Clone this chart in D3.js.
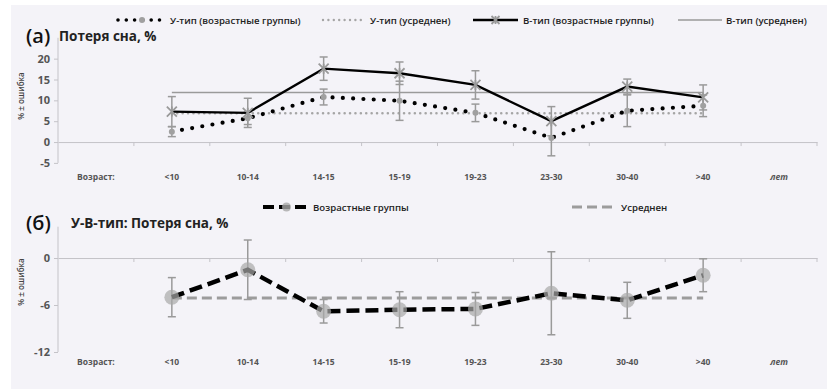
<!DOCTYPE html>
<html>
<head>
<meta charset="utf-8">
<script src="https://cdn.jsdelivr.net/npm/d3@7"></script>
<style>
  html, body { margin: 0; padding: 0; background: #ffffff; }
  svg { display: block; }
  text { font-family: "Open Sans", "Noto Sans", sans-serif; }
</style>
</head>
<body>
<svg id="chart" width="827" height="389"></svg>
<script>
// Age groups along the horizontal axis (first and last slots are axis captions)
const categories = ["Возраст:", "<10", "10-14", "14-15", "15-19", "19-23", "23-30", "30-40", ">40", "лет"];
const ageGroups = ["<10", "10-14", "14-15", "15-19", "19-23", "23-30", "30-40", ">40"];

// Panel (a): sleep loss, %
const uValues = [2.5, 5.7, 10.8, 9.9, 7.0, 1.0, 7.5, 8.7];
const uErrors = [1.2, 1.5, 1.9, 4.7, 2.1, 4.3, 3.8, 2.6];
const uMean = 6.9;
const bValues = [7.3, 7.0, 17.6, 16.5, 13.7, 5.0, 13.3, 10.7];
const bErrors = [3.6, 3.5, 2.8, 2.7, 3.4, 3.5, 1.8, 3.0];
const bMean = 11.9;
const yTicksA = [-5, 0, 5, 10, 15, 20];

// Panel (б): difference U minus B, %
const dValues = [-5.0, -1.5, -6.8, -6.6, -6.5, -4.5, -5.4, -2.2];
const dErrors = [2.5, 3.8, 1.5, 2.3, 2.1, 5.3, 2.3, 2.1];
const dMean = -5.1;
const yTicksB = [-12, -6, 0];

const svg = d3.select("#chart");

svg.append("rect")
  .attr("x", 11).attr("y", 5).attr("width", 816).attr("height", 384)
  .attr("fill", "#f4f3f8");

const x = d3.scaleBand().domain(categories).range([58, 817]);
const cx = c => x(c) + x.bandwidth() / 2;

const yA = d3.scaleLinear().domain([-5, 25]).range([162.9, 37.8]);
const yB = d3.scaleLinear().domain([-12, 4]).range([352, 226.7]);

const axisGray = "#c4c3c8";
const labelGray = "#555";
const markGray = "#9a9a9a";

function drawFrame(y, ticks, labelY, axisTitleY) {
  const g = svg.append("g");
  // vertical value axis
  g.append("line")
    .attr("x1", 58).attr("x2", 58)
    .attr("y1", y(y.domain()[1])).attr("y2", y(y.domain()[0]))
    .attr("stroke", axisGray).attr("stroke-width", 1);
  const ya = d3.axisLeft(y).tickValues(ticks).tickSize(4).tickPadding(4).tickFormat(d3.format("d"));
  const ag = g.append("g").attr("transform", "translate(58,0)").call(ya);
  ag.select(".domain").remove();
  ag.selectAll(".tick line").attr("stroke", axisGray);
  ag.selectAll(".tick text")
    .attr("fill", labelGray).attr("font-size", 11).attr("font-weight", 700)
    .text(d => d3.format("d")(d).replace("−", "-"));

  // horizontal axis crossing at zero
  const xa = d3.axisBottom(x).tickValues([]).tickSizeOuter(0);
  const xg = g.append("g").attr("transform", `translate(0,${y(0)})`).call(xa);
  xg.select(".domain").attr("stroke", axisGray);
  const edges = categories.map(c => x(c)).concat([x.range()[1]]).slice(1);
  xg.selectAll(".catTick").data(edges).enter().append("line")
    .attr("x1", d => d).attr("x2", d => d).attr("y1", 0).attr("y2", 4)
    .attr("stroke", axisGray);

  // category labels at the bottom
  g.selectAll(".cat").data(categories).enter().append("text")
    .attr("x", d => cx(d)).attr("y", labelY)
    .attr("text-anchor", "middle")
    .attr("font-size", 8.5).attr("font-weight", 700)
    .attr("font-style", d => d === "лет" ? "italic" : "normal")
    .attr("fill", labelGray)
    .text(d => d);

  // value axis title
  g.append("text")
    .attr("transform", `translate(24,${axisTitleY}) rotate(-90)`)
    .attr("text-anchor", "middle")
    .attr("font-size", 8).attr("font-weight", 600)
    .attr("fill", "#444")
    .text("% ± ошибка");
}

function errorBars(y, values, errors) {
  const g = svg.append("g");
  ageGroups.forEach((c, i) => {
    const xc = cx(c), top = y(values[i] + errors[i]), bot = y(values[i] - errors[i]);
    g.append("line").attr("x1", xc).attr("x2", xc).attr("y1", top).attr("y2", bot)
      .attr("stroke", markGray).attr("stroke-width", 1.5);
    [top, bot].forEach(v => g.append("line")
      .attr("x1", xc - 4).attr("x2", xc + 4).attr("y1", v).attr("y2", v)
      .attr("stroke", markGray).attr("stroke-width", 1.5));
  });
}

function starMarker(g, xc, yc, s) {
  const p = d3.path();
  p.moveTo(xc - s, yc - s); p.lineTo(xc + s, yc + s);
  p.moveTo(xc - s, yc + s); p.lineTo(xc + s, yc - s);
  p.moveTo(xc, yc - s); p.lineTo(xc, yc + s);
  g.append("path").attr("d", p.toString())
    .attr("stroke", markGray).attr("stroke-width", 1.8).attr("fill", "none");
}

// ---------- Panel (а) ----------
drawFrame(yA, yTicksA, 180, 96);

const line = (y) => d3.line().x((d, i) => cx(ageGroups[i])).y(d => y(d));

// mean lines
svg.append("line")
  .attr("x1", cx("<10")).attr("x2", cx(">40"))
  .attr("y1", yA(bMean)).attr("y2", yA(bMean))
  .attr("stroke", markGray).attr("stroke-width", 1.6);
svg.append("line")
  .attr("x1", cx("<10")).attr("x2", cx(">40"))
  .attr("y1", yA(uMean)).attr("y2", yA(uMean))
  .attr("stroke", "#a5a5a5").attr("stroke-width", 2.6)
  .attr("stroke-dasharray", "0 5.4").attr("stroke-linecap", "round");

errorBars(yA, uValues, uErrors);
errorBars(yA, bValues, bErrors);

// U-type by age: round dotted black line
svg.append("path").datum(uValues).attr("d", line(yA))
  .attr("fill", "none").attr("stroke", "#000").attr("stroke-width", 4.2)
  .attr("stroke-dasharray", "0 10.3").attr("stroke-linecap", "round");
svg.selectAll(".uMark").data(uValues).enter().append("circle")
  .attr("cx", (d, i) => cx(ageGroups[i])).attr("cy", d => yA(d)).attr("r", 3)
  .attr("fill", "#a0a0a0");

// B-type by age: solid black line with star markers
svg.append("path").datum(bValues).attr("d", line(yA))
  .attr("fill", "none").attr("stroke", "#000").attr("stroke-width", 2.4);
const bm = svg.append("g");
bValues.forEach((v, i) => starMarker(bm, cx(ageGroups[i]), yA(v), 5));

// titles
svg.append("text").attr("x", 26).attr("y", 43)
  .attr("font-size", 20).attr("font-weight", 600).attr("fill", "#111").text("(а)");
svg.append("text").attr("x", 59).attr("y", 41)
  .attr("font-size", 13.5).attr("font-weight", 700).attr("fill", "#222").text("Потеря сна, %");

// legend for panel (а)
const legA = svg.append("g");
const legY = 20;
function legText(g, xPos, y, t) {
  g.append("text").attr("x", xPos).attr("y", y + 3.5)
    .attr("font-size", 9.6).attr("font-weight", 600).attr("fill", "#222").text(t);
}
legA.append("line").attr("x1", 118).attr("x2", 166).attr("y1", legY).attr("y2", legY)
  .attr("stroke", "#000").attr("stroke-width", 3.6)
  .attr("stroke-dasharray", "0 8.3").attr("stroke-linecap", "round");
legA.append("circle").attr("cx", 142).attr("cy", legY).attr("r", 3).attr("fill", "#a0a0a0");
legText(legA, 170, legY, "У-тип (возрастные группы)");

legA.append("line").attr("x1", 323).attr("x2", 364).attr("y1", legY).attr("y2", legY)
  .attr("stroke", "#a5a5a5").attr("stroke-width", 2.4)
  .attr("stroke-dasharray", "0 5.4").attr("stroke-linecap", "round");
legText(legA, 370, legY, "У-тип (усреднен)");

legA.append("line").attr("x1", 473).attr("x2", 518).attr("y1", legY).attr("y2", legY)
  .attr("stroke", "#000").attr("stroke-width", 2.4);
starMarker(legA, 495.5, legY, 4);
legText(legA, 523, legY, "В-тип (возрастные группы)");

legA.append("line").attr("x1", 678).attr("x2", 722).attr("y1", legY).attr("y2", legY)
  .attr("stroke", markGray).attr("stroke-width", 1.6);
legText(legA, 726, legY, "В-тип (усреднен)");

// ---------- Panel (б) ----------
drawFrame(yB, yTicksB, 365, 282);

svg.append("line")
  .attr("x1", cx("<10")).attr("x2", cx(">40"))
  .attr("y1", yB(dMean)).attr("y2", yB(dMean))
  .attr("stroke", "#9c9c9c").attr("stroke-width", 3)
  .attr("stroke-dasharray", "10 5");

errorBars(yB, dValues, dErrors);

svg.append("path").datum(dValues).attr("d", line(yB))
  .attr("fill", "none").attr("stroke", "#000").attr("stroke-width", 4.5)
  .attr("stroke-dasharray", "13 6");
svg.selectAll(".dMark").data(dValues).enter().append("circle")
  .attr("cx", (d, i) => cx(ageGroups[i])).attr("cy", d => yB(d)).attr("r", 7.5)
  .attr("fill", "#a8a8a8").attr("fill-opacity", 0.7);

svg.append("text").attr("x", 26).attr("y", 230)
  .attr("font-size", 20).attr("font-weight", 600).attr("fill", "#111").text("(б)");
svg.append("text").attr("x", 71).attr("y", 228)
  .attr("font-size", 13.5).attr("font-weight", 700).attr("fill", "#222").text("У-В-тип: Потеря сна, %");

const legB = svg.append("g");
const legYB = 207;
legB.append("line").attr("x1", 263).attr("x2", 310).attr("y1", legYB).attr("y2", legYB)
  .attr("stroke", "#000").attr("stroke-width", 4)
  .attr("stroke-dasharray", "11 5");
legB.append("circle").attr("cx", 286.5).attr("cy", legYB).attr("r", 4.5)
  .attr("fill", "#a8a8a8").attr("fill-opacity", 0.8);
legText(legB, 313, legYB, "Возрастные группы");

legB.append("line").attr("x1", 572).attr("x2", 614).attr("y1", legYB).attr("y2", legYB)
  .attr("stroke", "#9c9c9c").attr("stroke-width", 3)
  .attr("stroke-dasharray", "10 5");
legText(legB, 621, legYB, "Усреднен");
</script>
</body>
</html>
